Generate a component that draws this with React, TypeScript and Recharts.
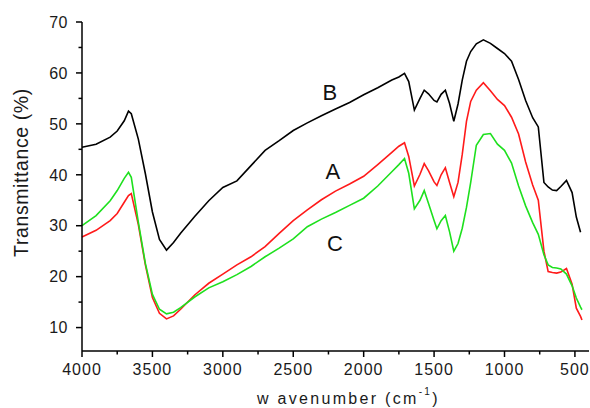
import React from 'react';
import { LineChart, Line, XAxis, YAxis, ReferenceDot } from 'recharts';

const wavenumbers = [
  4000, 3900, 3800, 3750, 3700, 3670, 3650, 3600, 3550, 3500,
  3450, 3400, 3350, 3300, 3200, 3100, 3000, 2900, 2800, 2700,
  2600, 2500, 2400, 2300, 2200, 2100, 2000, 1900, 1800, 1750,
  1710, 1680, 1640, 1600, 1570, 1540, 1500, 1480, 1450, 1420,
  1390, 1360, 1330, 1300, 1270, 1240, 1200, 1150, 1100, 1050,
  1000, 950, 900, 850, 800, 760, 720, 690, 660, 630,
  600, 560, 520, 490, 460, 450
];

const seriesB = [
  45.4, 46.0, 47.4, 48.6, 50.6, 52.5, 52.0, 47.0, 40.2, 32.7,
  27.3, 25.2, 26.7, 28.5, 31.8, 34.9, 37.5, 38.8, 41.8, 44.8,
  46.7, 48.7, 50.2, 51.6, 52.9, 54.2, 55.7, 57.1, 58.6, 59.2,
  59.9, 58.3, 52.7, 55.0, 56.6, 55.9, 54.6, 54.3, 55.8, 56.6,
  54.0, 50.5, 53.9, 58.6, 62.3, 64.2, 65.7, 66.5, 65.8, 64.8,
  63.8, 62.3, 58.7, 54.6, 51.2, 49.4, 38.5, 37.6, 37.0, 36.9,
  37.7, 38.9, 36.5, 31.7, 28.7, null
];

const seriesA = [
  27.8, 29.1, 31.0, 32.4, 34.6, 35.9, 36.3, 30.2, 22.3, 15.9,
  12.8, 11.7, 12.3, 13.6, 16.4, 18.7, 20.5, 22.3, 23.9, 25.9,
  28.5, 31.0, 33.1, 35.1, 36.8, 38.2, 39.7, 42.0, 44.4, 45.6,
  46.3, 43.6, 37.8, 40.1, 42.2, 40.8, 38.6, 37.9, 40.0, 41.4,
  38.5, 35.7, 38.5, 44.0, 50.5, 54.4, 56.6, 58.1, 56.5, 54.8,
  53.6, 51.3, 48.0, 42.5, 38.0, 35.0, 25.0, 21.0, 20.8, 20.7,
  20.9, 21.6, 18.5, 13.8, 12.2, 11.5
];

const seriesC = [
  30.0, 32.0, 34.9, 36.9, 39.3, 40.5, 39.5, 30.7, 22.6, 16.5,
  13.6, 12.7, 13.0, 13.9, 16.0, 17.8, 19.0, 20.4, 22.0, 23.9,
  25.6, 27.4, 29.8, 31.3, 32.6, 34.0, 35.4, 37.8, 40.6, 42.0,
  43.2, 40.3, 33.3, 35.0, 36.9, 34.4, 31.0, 29.4, 31.0, 32.0,
  28.8, 25.0, 26.5, 29.5, 33.6, 38.5, 45.8, 47.9, 48.1, 46.0,
  44.8, 42.3, 37.8, 33.9, 30.6, 28.3, 24.3, 22.3, 21.8, 21.7,
  21.5, 20.5, 18.2, 15.8, 14.0, 13.5
];

const xTicks = [
  4000, 3750, 3500, 3250, 3000, 2750, 2500, 2250, 2000,
  1750, 1500, 1250, 1000, 750, 500
];
const yTicks = [10, 15, 20, 25, 30, 35, 40, 45, 50, 55, 60, 65, 70];

// curve names placed next to the lines, in data coordinates
const curveLabels = [
  { name: 'B', wn: 2240, t: 56.3 },
  { name: 'A', wn: 2218, t: 40.7 },
  { name: 'C', wn: 2204, t: 26.6 }
];

const data = wavenumbers.map((wn, i) => ({
  wn,
  A: seriesA[i],
  B: seriesB[i],
  C: seriesC[i]
}));

const FONT = '"Liberation Sans", Arial, sans-serif';

const XTick = (props: any) => {
  const { x, y, payload } = props;
  const major = payload.value % 500 === 0;
  return (
    <g>
      <line x1={x} y1={y} x2={x} y2={y + (major ? 6 : 3.5)} stroke="#000" strokeWidth={1.5} />
      {major && (
        <text x={x} y={y + 24} textAnchor="middle" fontSize={16} letterSpacing={1}
          fill="#1a1a1a" fontFamily={FONT}>
          {payload.value}
        </text>
      )}
    </g>
  );
};

const YTick = (props: any) => {
  const { x, y, payload } = props;
  const major = payload.value % 10 === 0;
  return (
    <g>
      <line x1={x} y1={y} x2={x - (major ? 6 : 3.5)} y2={y} stroke="#000" strokeWidth={1.5} />
      {major && (
        <text x={x - 14} y={y} dy="0.36em" textAnchor="end" fontSize={16} letterSpacing={0.5}
          fill="#1a1a1a" fontFamily={FONT}>
          {payload.value}
        </text>
      )}
    </g>
  );
};

export default function App() {
  return (
    <div style={{ position: 'absolute', left: 0, top: 0, width: 590, height: 408, background: '#fff' }}>
      <LineChart width={590} height={408} data={data}
        margin={{ top: 22, right: 1, bottom: 0, left: 0 }}>
        <XAxis dataKey="wn" type="number" domain={[400, 4000]} reversed
          ticks={xTicks} interval={0} tickLine={false} tickSize={0} tickMargin={0}
          tick={<XTick />} height={57} axisLine={{ stroke: '#000', strokeWidth: 1.5 }} />
        <YAxis type="number" domain={[5.4, 70]} ticks={yTicks} interval={0}
          tickLine={false} tickSize={0} tickMargin={0} tick={<YTick />} width={82}
          axisLine={{ stroke: '#000', strokeWidth: 1.5 }} />
        <Line dataKey="B" stroke="#000000" strokeWidth={1.6} dot={false}
          isAnimationActive={false} type="linear" />
        <Line dataKey="A" stroke="#ff1a1a" strokeWidth={1.6} dot={false}
          isAnimationActive={false} type="linear" />
        <Line dataKey="C" stroke="#1ee01e" strokeWidth={1.6} dot={false}
          isAnimationActive={false} type="linear" />
        {curveLabels.map((c) => (
          <ReferenceDot key={c.name} x={c.wn} y={c.t} r={0} fill="none" stroke="none"
            label={{ value: c.name, position: 'center', fontSize: 22, fill: '#111', fontFamily: FONT }} />
        ))}
      </LineChart>
      <svg width={590} height={408} style={{ position: 'absolute', left: 0, top: 0, pointerEvents: 'none' }}>
        <text transform="translate(27.5,172.5) rotate(-90)" textAnchor="middle" fontSize={19.5}
          letterSpacing={0.6} fill="#1a1a1a" fontFamily={FONT}>
          Transmittance (%)
        </text>
        <text x={257} y={404} fontSize={16} letterSpacing={2.3} fill="#1a1a1a" fontFamily={FONT}>
          w avenumber (cm
          <tspan fontSize={10} dy={-9}>-1</tspan>
          <tspan dy={9}>)</tspan>
        </text>
      </svg>
    </div>
  );
}
